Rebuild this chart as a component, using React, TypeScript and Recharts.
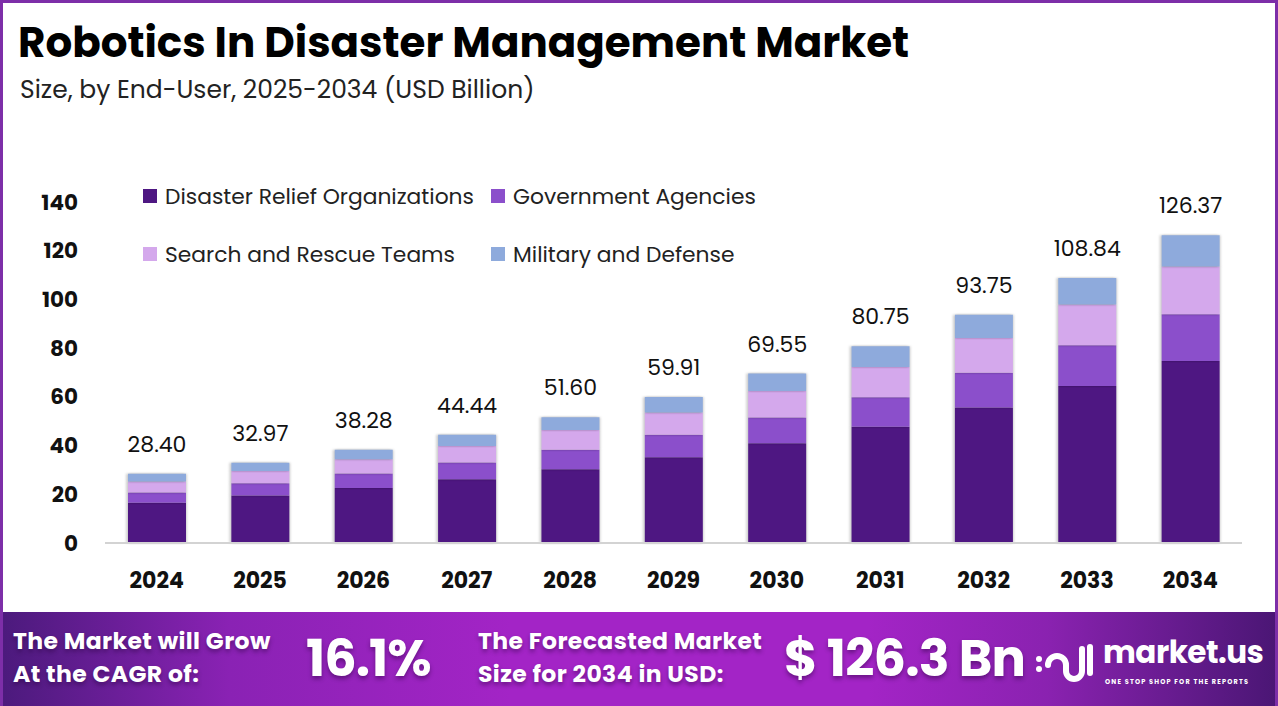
import { BarChart, Bar, XAxis, YAxis, LabelList } from "recharts";

const years = ["2024", "2025", "2026", "2027", "2028", "2029", "2030", "2031", "2032", "2033", "2034"];
const disasterRelief = [16.5, 19.5, 22.6, 26.2, 30.3, 35.2, 41.0, 47.7, 55.6, 64.5, 74.7];
const government = [4.2, 5.0, 5.9, 6.8, 8.0, 9.2, 10.5, 12.1, 14.3, 16.7, 19.2];
const searchRescue = [4.6, 5.1, 5.9, 6.8, 8.1, 9.2, 10.9, 12.5, 14.3, 16.7, 19.6];
const military = [3.1, 3.37, 3.88, 4.64, 5.2, 6.31, 7.15, 8.45, 9.55, 10.94, 12.87];
const totals = [28.4, 32.97, 38.28, 44.44, 51.6, 59.91, 69.55, 80.75, 93.75, 108.84, 126.37];
const yTicks = [0, 20, 40, 60, 80, 100, 120, 140];

const series = [
  { key: "disasterRelief", name: "Disaster Relief Organizations", color: "#4e1782" },
  { key: "government", name: "Government Agencies", color: "#8b4fcb" },
  { key: "searchRescue", name: "Search and Rescue Teams", color: "#d4a8ec" },
  { key: "military", name: "Military and Defense", color: "#8eaadc" },
];

const data = years.map((year, i) => ({
  year,
  disasterRelief: disasterRelief[i],
  government: government[i],
  searchRescue: searchRescue[i],
  military: military[i],
  total: totals[i],
}));

const FONT = "Poppins, Inter, 'Noto Sans', sans-serif";

// 2x2 legend like the original
function LegendGrid() {
  return (
    <div style={{ display: "grid", gridTemplateColumns: "348px 300px", rowGap: 34, fontFamily: FONT }}>
      {series.map((s) => (
        <div key={s.key} style={{ display: "flex", alignItems: "center", height: 24 }}>
          <span style={{ width: 14, height: 14, background: s.color, marginRight: 8, display: "inline-block" }} />
          <span style={{ fontSize: 21.8, color: "#222", whiteSpace: "nowrap" }}>{s.name}</span>
        </div>
      ))}
    </div>
  );
}

function Logo() {
  return (
    <svg width="62" height="46" viewBox="0 0 62 46">
      <g fill="none" stroke="#fff" strokeWidth="6" strokeLinecap="round">
        <path d="M14 28 A9 9 0 0 1 32 28 L32 34 A8 8 0 0 0 48 34 L48 12" />
        <path d="M56 10 L56 36" />
      </g>
      <circle cx="5" cy="22" r="3" fill="#fff" />
      <circle cx="5" cy="32" r="3" fill="#fff" />
    </svg>
  );
}

export default function App() {
  const shadow = "0 3px 4px rgba(40,0,60,0.45)";
  const line = {
    fontSize: 23.5,
    fontWeight: 700,
    lineHeight: "33px",
    height: 33,
    letterSpacing: 0.4,
    textShadow: shadow,
    whiteSpace: "nowrap" as const,
  };
  return (
    <div
      style={{
        position: "relative",
        width: 1278,
        height: 706,
        background: "#fff",
        overflow: "hidden",
        fontFamily: FONT,
        boxSizing: "border-box",
        borderTop: "3px solid #7d2ea8",
        borderLeft: "3px solid #7d2ea8",
        borderRight: "3px solid #7d2ea8",
      }}
    >
      <style>{`body{margin:0} .recharts-bar-rectangle path{filter:drop-shadow(1.5px 0 1px rgba(0,0,0,.18)) drop-shadow(-1.5px 0 1px rgba(0,0,0,.18));}`}</style>

      <div style={{ position: "absolute", left: 15, top: 18, fontSize: 42, lineHeight: "44px", fontWeight: 700, color: "#000", whiteSpace: "nowrap" }}>
        Robotics In Disaster Management Market
      </div>
      <div style={{ position: "absolute", left: 17, top: 73, fontSize: 25, lineHeight: "28px", color: "#222", whiteSpace: "nowrap" }}>
        Size, by End-User, 2025-2034 (USD Billion)
      </div>

      <div style={{ position: "absolute", left: -3, top: -3 }}>
        <BarChart width={1278} height={612} data={data} margin={{ top: 202, right: 36, left: 0, bottom: 0 }}>
          <XAxis
            dataKey="year"
            height={69}
            tickSize={0}
            tickMargin={29}
            axisLine={{ stroke: "#d3d3d3", strokeWidth: 2 }}
            tick={{ fontSize: 22, fontWeight: 700, fill: "#111", fontFamily: FONT }}
          />
          <YAxis
            width={105}
            domain={[0, 140]}
            ticks={yTicks}
            tickSize={0}
            tickMargin={27}
            axisLine={false}
            tickLine={false}
            tick={{ fontSize: 21.5, fontWeight: 700, fill: "#111", fontFamily: FONT }}
          />
          {series.map((s, idx) => (
            <Bar key={s.key} dataKey={s.key} name={s.name} stackId="a" fill={s.color} barSize={58} isAnimationActive={false}>
              {idx === series.length - 1 && (
                <LabelList
                  dataKey="total"
                  position="top"
                  offset={22}
                  formatter={(v: number) => v.toFixed(2)}
                  style={{ fontSize: 22, fill: "#111", fontFamily: FONT }}
                />
              )}
            </Bar>
          ))}
        </BarChart>
      </div>

      <div style={{ position: "absolute", left: 140, top: 181 }}>
        <LegendGrid />
      </div>

      {/* bottom banner */}
      <div
        style={{
          position: "absolute",
          left: -3,
          top: 609,
          width: 1278,
          height: 97,
          background: "linear-gradient(90deg, #4b1a7c 0%, #8a22b4 18%, #a324c6 40%, #a324c6 68%, #8a22b0 82%, #4a1674 100%)",
          color: "#fff",
        }}
      >
        <div style={{ position: "absolute", left: 13, top: 12 }}>
          <div style={line}>The Market will Grow</div>
          <div style={line}>At the CAGR of:</div>
        </div>
        <div style={{ position: "absolute", left: 306, top: 15, fontSize: 51, fontWeight: 700, lineHeight: "62px", textShadow: shadow, letterSpacing: -1 }}>
          16.1%
        </div>
        <div style={{ position: "absolute", left: 478, top: 12 }}>
          <div style={line}>The Forecasted Market</div>
          <div style={line}>Size for 2034 in USD:</div>
        </div>
        <div style={{ position: "absolute", left: 784, top: 16, fontSize: 51, fontWeight: 700, lineHeight: "60px", textShadow: shadow, letterSpacing: -0.8, whiteSpace: "nowrap" }}>
          $ 126.3 Bn
        </div>
        <div style={{ position: "absolute", left: 1034, top: 25 }}>
          <Logo />
        </div>
        <div style={{ position: "absolute", left: 1103, top: 22, fontSize: 31, fontWeight: 700, lineHeight: "36px", letterSpacing: -0.5 }}>
          market.us
        </div>
        <div style={{ position: "absolute", left: 1105, top: 65, fontSize: 6.5, fontWeight: 700, letterSpacing: 1.2, whiteSpace: "nowrap" }}>
          ONE STOP SHOP FOR THE REPORTS
        </div>
      </div>
    </div>
  );
}
